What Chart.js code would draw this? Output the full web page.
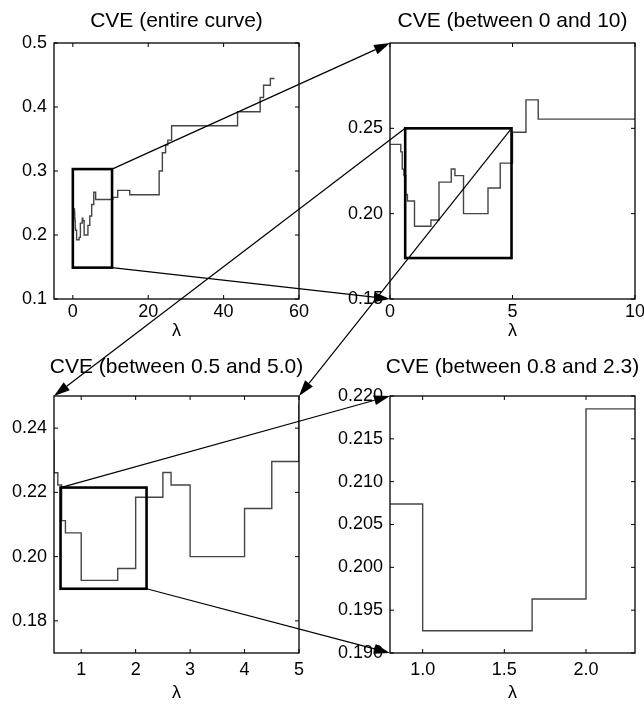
<!DOCTYPE html>
<html>
<head>
<meta charset="utf-8">
<script src="https://cdn.jsdelivr.net/npm/chart.js@4.4.1/dist/chart.umd.min.js"></script>
<style>
html, body { margin: 0; padding: 0; background: #fff; }
#wrap { position: relative; width: 644px; height: 707px; overflow: hidden; }
#wrap canvas { position: absolute; left: 0; top: 0; }
</style>
</head>
<body>
<div id="wrap">
  <canvas id="c0" width="644" height="707"></canvas>
  <canvas id="c1" width="644" height="707"></canvas>
  <canvas id="c2" width="644" height="707"></canvas>
  <canvas id="c3" width="644" height="707"></canvas>
  <canvas id="arrows" width="644" height="707"></canvas>
</div>
<script>
// CVE step curve: value holds from each lambda to the next one
var lambdaSteps = [0, 0.44, 0.50, 0.57, 0.64, 0.71, 1.0, 1.67, 2.0, 2.5, 2.65, 3.0, 4.0, 4.5, 5.0, 5.55, 6.05,
                   10.6, 11.9, 15.1, 22.9, 23.75, 24.6, 25.2, 26.2, 43.7, 49.7, 50.6, 52.4, 53.5];
var cveSteps = [0.2406, 0.2362, 0.2261, 0.2223, 0.2112, 0.2074, 0.1926, 0.1963, 0.2185, 0.2262, 0.2223, 0.2000, 0.2150, 0.2296, 0.2477, 0.2667, 0.2554,
                0.2588, 0.2698, 0.2630, 0.3000, 0.3286, 0.3405, 0.3483, 0.3706, 0.3925, 0.4149, 0.4340, 0.4445, 0.4445];

var panelTitles = ["CVE (entire curve)", "CVE (between 0 and 10)", "CVE (between 0.5 and 5.0)", "CVE (between 0.8 and 2.3)"];
var xRanges = [[-5, 60], [0, 10], [0.5, 5], [0.8, 2.3]];
var yRanges = [[0.1, 0.5], [0.15, 0.30], [0.17, 0.25], [0.19, 0.22]];
var xTicks = [[0, 20, 40, 60], [0, 5, 10], [1, 2, 3, 4, 5], [1.0, 1.5, 2.0]];
var yTicks = [[0.1, 0.2, 0.3, 0.4, 0.5], [0.15, 0.20, 0.25], [0.18, 0.20, 0.22, 0.24],
              [0.190, 0.195, 0.200, 0.205, 0.210, 0.215, 0.220]];
var xDecimals = [0, 0, 0, 1];
var yDecimals = [1, 2, 2, 3];
// zoomed region drawn in panels 0..2: [xmin, xmax, ymin, ymax]
var zoomBoxes = [[0, 10.4, 0.149, 0.303], [0.62, 4.96, 0.174, 0.25], [0.62, 2.2, 0.19, 0.2215]];

// pixel layout of each plot area
var layout = [
  { left: 54, right: 299, top: 43, bottom: 299, titleY: 27, lambdaY: 336, tickPad: 2 },
  { left: 390, right: 635, top: 43, bottom: 299, titleY: 27, lambdaY: 336, tickPad: 2 },
  { left: 54, right: 299, top: 396, bottom: 653, titleY: 373, lambdaY: 698, tickPad: 6 },
  { left: 390, right: 635, top: 396, bottom: 653, titleY: 373, lambdaY: 698, tickPad: 6 }
];

var W = 644, H = 707;
var FONT = '"Liberation Sans", Arial, Helvetica, sans-serif';

var framePlugin = {
  id: 'frame',
  afterDraw: function (chart) {
    var i = chart.options.plugins.frame.index;
    var ctx = chart.ctx, a = chart.chartArea;
    var xs = chart.scales.x, ys = chart.scales.y;
    var t = 4;
    ctx.save();
    ctx.strokeStyle = '#000';
    ctx.lineWidth = 1.3;
    ctx.strokeRect(a.left, a.top, a.right - a.left, a.bottom - a.top);
    ctx.beginPath();
    xTicks[i].forEach(function (v) {
      var p = xs.getPixelForValue(v);
      ctx.moveTo(p, a.bottom); ctx.lineTo(p, a.bottom - t);
      ctx.moveTo(p, a.top); ctx.lineTo(p, a.top + t);
    });
    yTicks[i].forEach(function (v) {
      var p = ys.getPixelForValue(v);
      ctx.moveTo(a.left, p); ctx.lineTo(a.left + t, p);
      ctx.moveTo(a.right, p); ctx.lineTo(a.right - t, p);
    });
    ctx.lineWidth = 1;
    ctx.stroke();

    var b = zoomBoxes[i];
    if (b) {
      var x0 = xs.getPixelForValue(b[0]), x1 = xs.getPixelForValue(b[1]);
      var y0 = ys.getPixelForValue(b[3]), y1 = ys.getPixelForValue(b[2]);
      ctx.lineWidth = 2.6;
      ctx.strokeRect(x0, y0, x1 - x0, y1 - y0);
    }

    ctx.fillStyle = '#000';
    ctx.textAlign = 'center';
    ctx.textBaseline = 'alphabetic';
    ctx.font = '21px ' + FONT;
    ctx.fillText(panelTitles[i], (a.left + a.right) / 2, layout[i].titleY);
    ctx.font = '18px ' + FONT;
    ctx.fillText('\u03bb', (a.left + a.right) / 2, layout[i].lambdaY);
    ctx.restore();
  }
};

function makeChart(i) {
  var L = layout[i];
  var yW = L.left < 200 ? 54 : 60;
  var xH = 40;
  var pts = lambdaSteps.map(function (x, k) { return { x: x, y: cveSteps[k] }; });
  return new Chart(document.getElementById('c' + i).getContext('2d'), {
    type: 'line',
    data: {
      datasets: [{
        data: pts,
        stepped: 'before',
        borderColor: '#454545',
        borderWidth: 1.4,
        pointRadius: 0,
        fill: false
      }]
    },
    options: {
      responsive: false,
      animation: false,
      devicePixelRatio: 1,
      events: [],
      layout: {
        padding: { left: L.left - yW, right: W - L.right, top: L.top, bottom: H - L.bottom - xH }
      },
      plugins: {
        legend: { display: false },
        tooltip: { enabled: false },
        title: { display: false },
        frame: { index: i }
      },
      scales: {
        x: {
          type: 'linear',
          min: xRanges[i][0],
          max: xRanges[i][1],
          grid: { display: false, drawTicks: false },
          border: { display: false },
          afterBuildTicks: function (s) { s.ticks = xTicks[i].map(function (v) { return { value: v }; }); },
          afterFit: function (s) { s.height = xH; s.paddingLeft = 0; s.paddingRight = 0; },
          ticks: {
            padding: L.tickPad,
            maxRotation: 0,
            color: '#000',
            font: { family: FONT, size: 18 },
            callback: function (v) { return Number(v).toFixed(xDecimals[i]); }
          }
        },
        y: {
          type: 'linear',
          min: yRanges[i][0],
          max: yRanges[i][1],
          grid: { display: false, drawTicks: false },
          border: { display: false },
          afterBuildTicks: function (s) { s.ticks = yTicks[i].map(function (v) { return { value: v }; }); },
          afterFit: function (s) { s.width = yW; s.paddingTop = 0; s.paddingBottom = 0; },
          ticks: {
            padding: 7,
            color: '#000',
            font: { family: FONT, size: 18 },
            callback: function (v) { return Number(v).toFixed(yDecimals[i]); }
          }
        }
      }
    },
    plugins: [framePlugin]
  });
}

var charts = [0, 1, 2, 3].map(makeChart);

// arrows: from a corner of the zoom box in one panel to a corner of the next panel
var arrowLinks = [
  { from: 0, bx: 1, by: 3, to: 1, corner: 'tl' },
  { from: 0, bx: 1, by: 2, to: 1, corner: 'bl' },
  { from: 1, bx: 0, by: 3, to: 2, corner: 'tl' },
  { from: 1, bx: 1, by: 3, to: 2, corner: 'tr' },
  { from: 2, bx: 0, by: 3, to: 3, corner: 'tl' },
  { from: 2, bx: 1, by: 2, to: 3, corner: 'bl' }
];

function drawArrows() {
  var ctx = document.getElementById('arrows').getContext('2d');
  ctx.strokeStyle = '#000';
  ctx.fillStyle = '#000';
  ctx.lineWidth = 1.2;
  arrowLinks.forEach(function (k) {
    var src = charts[k.from], dst = charts[k.to], b = zoomBoxes[k.from];
    var x0 = src.scales.x.getPixelForValue(b[k.bx]);
    var y0 = src.scales.y.getPixelForValue(b[k.by]);
    var a = dst.chartArea;
    var x1 = k.corner === 'tr' ? a.right : a.left;
    var y1 = k.corner === 'bl' ? a.bottom : a.top;
    var ang = Math.atan2(y1 - y0, x1 - x0);
    var len = 16, half = 5;
    var bx = x1 - len * Math.cos(ang), by = y1 - len * Math.sin(ang);
    ctx.beginPath();
    ctx.moveTo(x0, y0);
    ctx.lineTo(bx, by);
    ctx.stroke();
    ctx.beginPath();
    ctx.moveTo(x1, y1);
    ctx.lineTo(bx + half * Math.sin(ang), by - half * Math.cos(ang));
    ctx.lineTo(bx - half * Math.sin(ang), by + half * Math.cos(ang));
    ctx.closePath();
    ctx.fill();
  });
}
drawArrows();
</script>
</body>
</html>
